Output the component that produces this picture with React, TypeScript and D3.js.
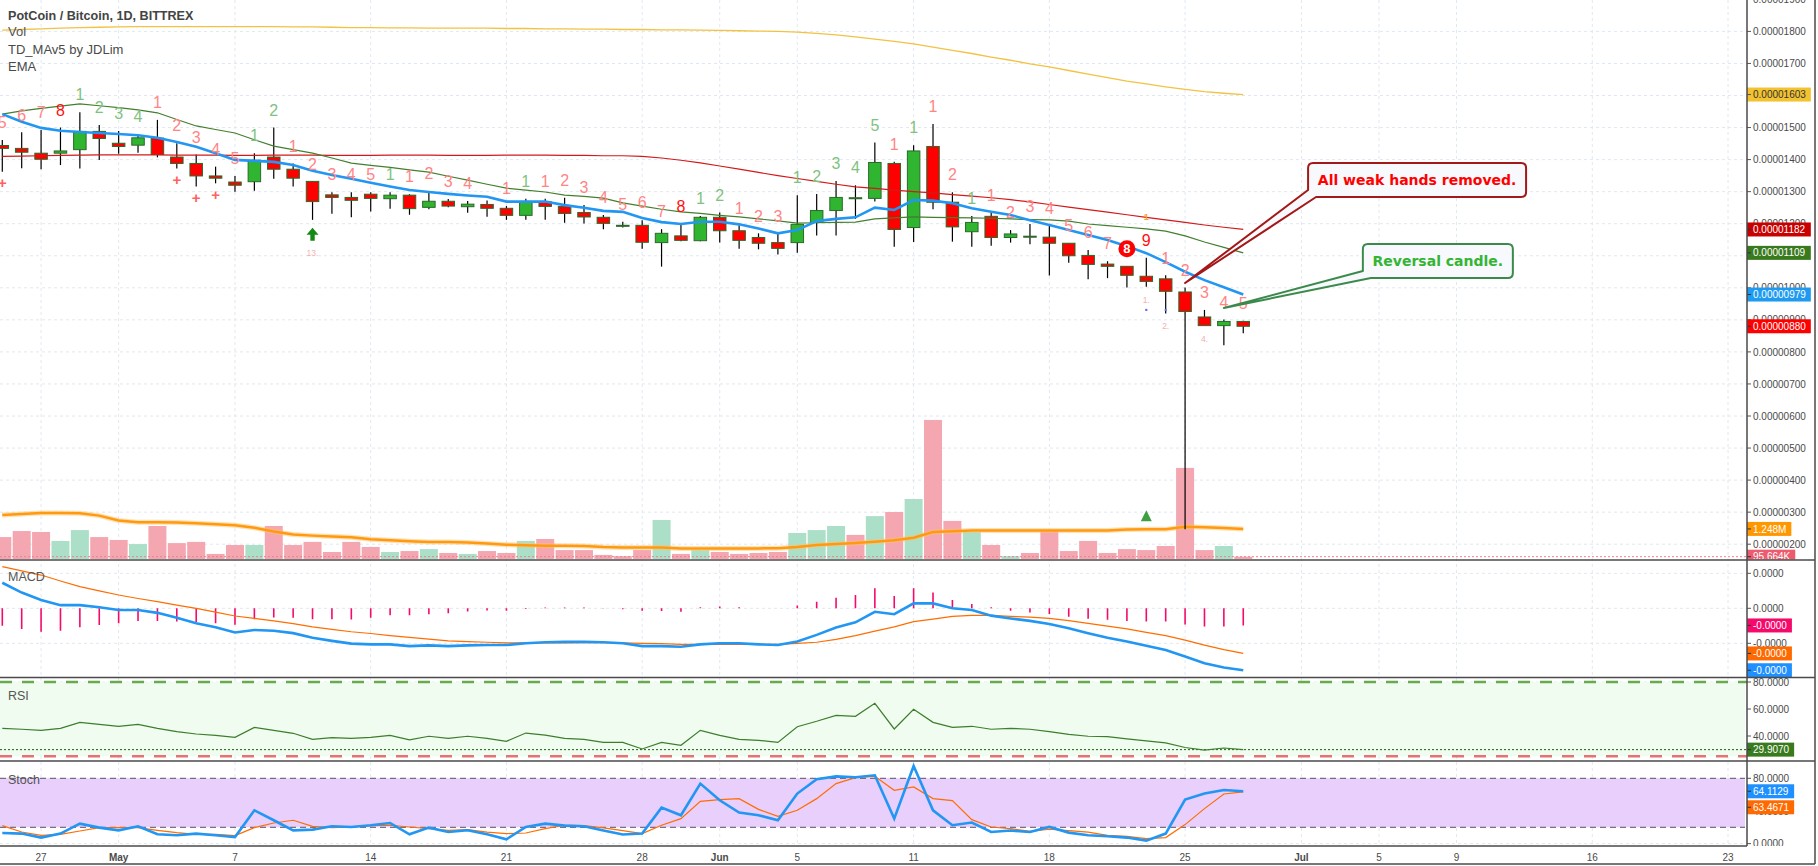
import React from "react";
import * as d3 from "d3";

// ---------------- data ----------------
const dates = d3.utcDay.range(new Date(Date.UTC(2018, 3, 25)), new Date(Date.UTC(2018, 5, 29)));

// prices in satoshi (1e-8 BTC)
const openP = [1444,1435,1420,1420,1431,1488,1451,1445,1467,1408,1388,1349,1330,1331,1408,1370,1332,1290,1282,1292,1278,1289,1251,1270,1253,1260,1248,1226,1268,1254,1235,1220,1195,1195,1141,1162,1147,1220,1178,1157,1141,1141,1204,1241,1281,1279,1388,1188,1441,1267,1175,1223,1157,1161,1158,1139,1101,1074,1067,1036,1028,987,909,882,895];
const highP = [1461,1485,1492,1500,1548,1508,1489,1479,1524,1451,1416,1378,1349,1420,1500,1388,1332,1298,1298,1298,1298,1292,1302,1277,1271,1272,1255,1278,1278,1281,1258,1227,1206,1211,1183,1199,1224,1235,1195,1170,1168,1289,1293,1333,1320,1453,1393,1445,1511,1298,1224,1235,1180,1199,1194,1139,1118,1083,1067,1094,1039,1001,931,901,897];
const lowP = [1362,1373,1370,1383,1372,1399,1418,1421,1407,1372,1316,1326,1300,1303,1340,1316,1212,1231,1220,1238,1247,1228,1245,1251,1234,1222,1212,1212,1212,1203,1201,1183,1188,1122,1066,1145,1145,1141,1122,1120,1104,1109,1163,1163,1215,1269,1128,1143,1245,1144,1128,1131,1141,1136,1038,1078,1027,1030,1001,1003,920,247,882,821,858];
const closeP = [1435,1423,1401,1427,1488,1466,1441,1468,1416,1388,1349,1342,1320,1398,1370,1342,1269,1282,1273,1279,1289,1247,1270,1255,1261,1248,1226,1267,1254,1232,1221,1201,1193,1142,1170,1148,1220,1178,1148,1139,1123,1198,1241,1282,1280,1391,1182,1427,1267,1190,1204,1157,1168,1160,1139,1100,1073,1067,1039,1020,989,926,882,895,880];

// volume in thousands
const volume = [910,1160,1120,750,1200,910,790,620,1370,660,710,210,580,580,1370,580,710,290,710,500,290,330,410,250,210,330,250,750,830,370,370,170,120,370,1620,210,370,290,210,250,290,1080,1200,1370,1000,1780,1950,2490,5770,1580,1120,580,120,250,1160,330,750,250,410,370,540,3780,370,540,95.664];
const volumeMA = [1830,1870,1910,1910,1900,1800,1600,1520,1520,1510,1480,1440,1400,1300,1140,1020,970,930,900,820,780,740,710,710,680,640,590,570,550,550,540,500,480,480,480,440,440,440,440,440,450,500,580,620,660,720,780,880,1120,1150,1180,1180,1180,1180,1180,1180,1180,1180,1220,1230,1230,1340,1320,1290,1248];

// EMAs (satoshi)
const emaFast = [1542,1518,1499,1490,1486,1483,1480,1476,1468,1455,1440,1420,1399,1396,1393,1383,1365,1352,1340,1328,1316,1305,1299,1293,1288,1284,1269,1269,1269,1258,1250,1240,1237,1218,1205,1199,1206,1206,1198,1185,1170,1180,1208,1215,1220,1250,1243,1274,1272,1264,1248,1237,1227,1211,1196,1180,1165,1149,1130,1108,1080,1050,1024,1002,979];
const emaMid = [1542,1552,1560,1567,1574,1568,1562,1555,1546,1525,1505,1494,1483,1462,1442,1431,1420,1405,1389,1382,1376,1368,1361,1348,1336,1323,1311,1305,1299,1289,1285,1280,1265,1255,1245,1237,1232,1226,1221,1215,1209,1202,1203,1204,1205,1215,1218,1221,1220,1219,1218,1217,1215,1213,1212,1208,1199,1194,1189,1184,1177,1162,1143,1126,1109];
const emaSlow = [1410,1411,1412,1413,1414,1415,1415,1415,1415,1414,1414,1414,1413,1413,1414,1414,1414,1413,1413,1413,1414,1414,1414,1413,1413,1413,1414,1414,1414,1413,1413,1412,1412,1410,1405,1398,1390,1380,1370,1360,1350,1341,1332,1323,1315,1310,1305,1300,1296,1291,1286,1281,1275,1268,1260,1252,1244,1236,1228,1220,1212,1204,1196,1189,1182];
const emaLong = [1804,1806,1808,1810,1812,1813,1814,1815,1815,1815,1815,1815,1815,1815,1815,1814,1814,1813,1812,1812,1811,1811,1810,1810,1810,1810,1809,1809,1808,1808,1807,1807,1806,1806,1805,1805,1804,1803,1802,1801,1800,1798,1794,1789,1783,1776,1769,1761,1751,1741,1731,1720,1710,1699,1689,1678,1667,1656,1645,1636,1627,1619,1612,1607,1603];

// MACD (satoshi)
const macdLine = [7.3,4.5,2.4,0.9,0.9,0.3,-0.5,-0.5,-1.3,-2.7,-4.3,-5.4,-6.9,-6.2,-6.4,-7.1,-8.4,-9.3,-10.1,-10.3,-10.3,-10.8,-10.6,-10.8,-10.6,-10.5,-10.5,-10.0,-9.7,-9.6,-9.6,-9.7,-10.0,-10.8,-10.8,-11.0,-10.3,-10.0,-10.0,-10.3,-10.5,-9.5,-7.6,-5.5,-4.0,-1.0,-1.7,1.4,1.4,0,-0.5,-2.1,-2.9,-3.6,-4.5,-5.7,-7.1,-8.4,-9.5,-10.7,-11.9,-13.8,-15.7,-16.9,-17.7];
const signalLine = [11.9,10.7,9.5,7.8,6.2,5.0,3.8,2.8,1.9,0.9,0,-1.1,-2.2,-2.9,-3.6,-4.4,-5.3,-6.0,-6.7,-7.2,-7.8,-8.3,-8.8,-9.3,-9.5,-9.7,-9.9,-9.9,-9.9,-9.9,-9.8,-9.8,-9.9,-10.0,-10.1,-10.3,-10.3,-10.3,-10.3,-10.3,-10.3,-10.0,-9.7,-8.9,-7.8,-6.5,-5.3,-3.8,-3.1,-2.3,-2.0,-2.0,-2.3,-2.5,-2.9,-3.5,-4.3,-5.1,-5.9,-6.9,-7.8,-9.1,-10.5,-11.8,-12.9];
const macdHist = [-5.0,-5.9,-6.7,-6.4,-5.4,-4.8,-4.3,-3.6,-3.6,-3.8,-3.9,-4.3,-4.7,-3.1,-2.6,-2.7,-3.1,-3.1,-3.2,-2.7,-2.0,-2.0,-1.7,-1.4,-0.9,-0.6,-0.7,-0.2,0.2,0.2,0.2,0.1,-0.3,-0.7,-0.8,-1.0,0.3,0.5,0.3,0,0,0.8,1.9,3.0,3.8,5.7,3.5,5.7,4.5,2.4,1.2,0.3,-0.7,-1.2,-1.6,-2.4,-3.0,-3.3,-3.6,-3.8,-3.8,-4.6,-5.2,-5.2,-4.9];

const rsi = [45.7,45.0,44.2,45.7,50.1,48.6,47.2,48.6,45.7,43.2,41.5,40.5,39.0,46.4,44.2,42.0,37.5,38.8,38.3,39.0,40.5,37.2,39.8,38.3,39.8,38.3,36.1,42.2,40.7,38.3,37.5,35.3,35.3,30.4,35.3,33.1,44.2,40.5,37.5,36.8,35.3,46.9,50.9,55.3,54.6,64.2,45.2,59.8,50.1,46.4,47.2,45.0,45.7,45.0,43.2,41.2,39.8,39.5,37.9,36.4,34.9,31.5,29.6,31.1,29.907];
const rsiBands = [80, 25];

const stochK = [13.0,12.3,7.4,12.3,24.5,19.6,16.3,21.2,11.4,10.2,12.3,10.2,8.1,40.8,28.6,16.3,17.2,21.2,20.4,22.5,25.3,11.4,19.6,14.2,16.3,11.4,5.3,20.4,24.5,22.0,21.2,16.0,11.1,12.3,44.1,34.7,73.5,53.1,38.0,34.7,28.6,61.3,78.8,82.4,81.2,83.7,30.6,95.1,40.8,22.5,25.8,14.2,16.0,14.2,20.4,13.5,10.2,9.0,7.4,3.7,12.3,53.9,61.3,65.7,64.1129];
const stochD = [22.1,14.2,10.2,11.4,15.5,19.6,19.6,19.6,16.3,13.5,11.4,11.4,9.8,19.6,25.3,28.6,21.2,19.6,20.4,22.0,22.5,20.4,18.4,16.3,17.2,14.2,12.3,13.0,18.4,22.5,22.0,19.2,16.0,12.3,22.5,30.6,51.8,53.9,55.1,42.0,33.5,40.8,55.1,73.5,80.8,82.4,65.3,69.4,55.1,52.7,29.4,20.4,18.4,15.1,17.6,16.0,14.2,10.2,9.0,6.2,7.4,23.3,42.9,60.8,63.4671];
const stochBands = [80, 20];

// TD sequential counts
const tdText = ["5","6","7","8","1","2","3","4","1","2","3","4","5","1","2","1","2","3","4","5","1","1","2","3","4","","1","1","1","2","3","4","5","6","7","8","1","2","1","2","3","1","2","3","4","5","1","1","1","2","1","1","2","3","4","5","6","7","8","9","1","2","3","4","5"];
const tdKind = ["r","r","r","R","g","g","g","g","r","r","r","r","r","g","g","r","r","r","r","r","g","r","r","r","r","-","r","g","r","r","r","r","r","r","r","R","g","g","r","r","r","g","g","g","g","g","r","g","r","r","g","r","r","r","r","r","r","r","C","R","r","r","r","r","r"];
const plusBars = [0, 9, 10, 11];
const arrowBar = 16;
const smallMarks = [
  { bar: 16, text: "13." },
  { bar: 59, text: "1." },
  { bar: 60, text: "2." },
  { bar: 62, text: "4." },
];

const tickDates = ["2018-04-27","2018-05-01","2018-05-07","2018-05-14","2018-05-21","2018-05-28","2018-06-01","2018-06-05","2018-06-11","2018-06-18","2018-06-25","2018-07-01","2018-07-05","2018-07-09","2018-07-16","2018-07-23"];
const tickLabels = ["27","May","7","14","21","28","Jun","5","11","18","25","Jul","5","9","16","23"];
const priceTicks = d3.range(200, 1901, 100);
const macdTicks = [10, 0, -10];
const rsiTicks = [80, 60, 40];
const stochTicks = [80, 40, 0];

const annotations = [
  { text: "All weak hands removed.", bar: 61, price: 1015, dx: 123, dy: -120, w: 218, color: "#ff0000", border: "#a31818" },
  { text: "Reversal candle.", bar: 63, price: 937, dx: 139, dy: -64, w: 150, color: "#33b533", border: "#3b8a4b" },
];

// ---------------- layout ----------------
const W = 1818, H = 866;
const AX = 1747;
const MAIN_B = 559.5, MACD_T = 560, MACD_B = 677.5, RSI_T = 677.5, RSI_B = 761, ST_T = 761, ST_B = 846;
const FONT = "'Liberation Sans', Arial, sans-serif";
const GRID = "#dfe8f2";

function textW(s: string) {
  let w = 0;
  for (const ch of s) w += /[0-9]/.test(ch) ? 5.56 : ch === "." ? 2.78 : ch === "-" ? 3.33 : ch === "M" ? 8.33 : ch === "K" ? 6.67 : 5.5;
  return w;
}

function fmtVol(v: number) {
  return v >= 1000 ? (v / 1000).toFixed(3) + "M" : v.toFixed(3) + "K";
}

const Tag = ({ y, text, bg, fg = "#fff" }: { y: number; text: string; bg: string; fg?: string }) => (
  <g>
    <rect x={AX} y={y - 7} width={textW(text) + 11} height={14} fill={bg} />
    <line x1={AX} x2={AX + 4} y1={y} y2={y} stroke={fg === "#fff" ? "#333" : "#555"} strokeWidth={1} />
    <text x={AX + 6} y={y + 3.6} fontSize={10} fill={fg} fontFamily={FONT}>{text}</text>
  </g>
);

export default function App() {
  const x = d3.scaleUtc()
    .domain([new Date(Date.UTC(2018, 3, 25)), new Date(Date.UTC(2018, 6, 23))])
    .range([2.3, 1728]);
  const yP = d3.scaleLinear().domain([200, 1800]).range([544.2, 31.4]);
  const yV = d3.scaleLinear().domain([0, 1000]).range([559, 534.9]);
  const yM = d3.scaleLinear().domain([-10, 10]).range([643.3, 573.3]);
  const yR = d3.scaleLinear().domain([40, 80]).range([736, 682]);
  const yS = d3.scaleLinear().domain([20, 80]).range([827.3, 778.3]);

  const xs = dates.map((d) => x(d));
  const mk = (arr: number[], ys: (v: number) => number) =>
    d3.line<number>().x((_, i) => xs[i]).y((v) => ys(v))(arr) || "";

  const bw = 12.5;
  const vw = 18;
  const tdColor: Record<string, string> = { r: "#ff8585", g: "#7fc27f", R: "#ff1010" };

  const tickX = tickDates.map((s) => x(new Date(s + "T00:00:00Z")));
  const last = dates.length - 1;

  const kY = yS(stochK[last]);
  const dY = Math.max(yS(stochD[last]), kY + 16);

  return (
    <div style={{ position: "absolute", left: 0, top: 0, width: W, height: H, background: "#fff" }}>
      <svg width={W} height={H} style={{ display: "block" }} fontFamily={FONT}>
        <defs>
          <clipPath id="cMain"><rect x={0} y={0} width={AX} height={MAIN_B} /></clipPath>
          <clipPath id="cMacd"><rect x={0} y={MACD_T} width={AX} height={MACD_B - MACD_T} /></clipPath>
          <clipPath id="cRsi"><rect x={0} y={RSI_T} width={AX} height={RSI_B - RSI_T} /></clipPath>
          <clipPath id="cSt"><rect x={0} y={ST_T} width={AX} height={ST_B - ST_T} /></clipPath>
          <clipPath id="aMain"><rect x={AX} y={0} width={W - AX} height={MAIN_B} /></clipPath>
          <clipPath id="aMacd"><rect x={AX} y={MACD_T} width={W - AX} height={MACD_B - MACD_T} /></clipPath>
          <clipPath id="aRsi"><rect x={AX} y={RSI_T} width={W - AX} height={RSI_B - RSI_T} /></clipPath>
          <clipPath id="aSt"><rect x={AX} y={ST_T} width={W - AX} height={ST_B - ST_T} /></clipPath>
        </defs>
        <rect x={0} y={0} width={W} height={H} fill="#fff" />

        {/* grids */}
        <g stroke={GRID} strokeWidth={1} strokeDasharray="3 3">
          {tickX.map((tx, i) => (
            <line key={"vg" + i} x1={tx} x2={tx} y1={0} y2={ST_B} />
          ))}
          <g clipPath="url(#cMain)">
            {priceTicks.map((t) => (
              <line key={"pg" + t} x1={0} x2={AX} y1={yP(t)} y2={yP(t)} />
            ))}
          </g>
          {macdTicks.map((t) => (
            <line key={"mg" + t} x1={0} x2={AX} y1={yM(t)} y2={yM(t)} />
          ))}
          {rsiTicks.map((t) => (
            <line key={"rg" + t} x1={0} x2={AX} y1={yR(t)} y2={yR(t)} />
          ))}
          {stochTicks.map((t) => (
            <line key={"sg" + t} x1={0} x2={AX} y1={yS(t)} y2={yS(t)} />
          ))}
        </g>

        {/* ---------- main pane ---------- */}
        <g clipPath="url(#cMain)">
          {/* volume */}
          {volume.map((v, i) => (
            <rect key={"v" + i} x={xs[i] - vw / 2} y={yV(v)} width={vw} height={yV(0) - yV(v)}
              fill={closeP[i] > openP[i] ? "#acdfc7" : "#f4a7b0"} />
          ))}
          <line x1={0} x2={AX} y1={yV(volume[last])} y2={yV(volume[last])} stroke="#f07f8a" strokeDasharray="2 2" strokeWidth={1} />
          <path d={mk(volumeMA, yV)} fill="none" stroke="#ffc46b" strokeWidth={5} strokeOpacity={0.5} />
          <path d={mk(volumeMA, yV)} fill="none" stroke="#ff9a10" strokeWidth={2.5} />

          {/* candles */}
          {dates.map((d, i) => {
            const o = openP[i], c = closeP[i];
            const up = c > o;
            const top = yP(Math.max(o, c));
            const bot = yP(Math.min(o, c));
            const h = Math.max(1, bot - top);
            return (
              <g key={"c" + i}>
                <line x1={xs[i]} x2={xs[i]} y1={yP(highP[i])} y2={yP(lowP[i])} stroke="#000" strokeWidth={1.2} />
                <rect x={xs[i] - bw / 2} y={top} width={bw} height={h}
                  fill={up ? "#2fb52f" : "#ff0000"} stroke="#2a6a2a" strokeWidth={1} />
              </g>
            );
          })}

          {/* EMAs */}
          <path d={mk(emaLong, yP)} fill="none" stroke="#f3c242" strokeWidth={1.3} />
          <path d={mk(emaSlow, yP)} fill="none" stroke="#d21a1a" strokeWidth={1.2} />
          <path d={mk(emaMid, yP)} fill="none" stroke="#437f2e" strokeWidth={1.2} />
          <path d={mk(emaFast, yP)} fill="none" stroke="#2196f3" strokeWidth={2.6} />

          {/* TD counts */}
          {tdText.map((t, i) => {
            if (!t) return null;
            const cy = yP(highP[i]) - 17.5;
            const k = tdKind[i];
            if (k === "C") {
              return (
                <g key={"td" + i}>
                  <circle cx={xs[i]} cy={cy} r={8.5} fill="#ff0000" />
                  <text x={xs[i]} y={cy + 4.5} textAnchor="middle" fontSize={13} fontWeight="bold" fill="#fff">{t}</text>
                </g>
              );
            }
            return (
              <text key={"td" + i} x={xs[i]} y={cy + 5.7} textAnchor="middle" fontSize={16}
                fill={tdColor[k]}>{t}</text>
            );
          })}
          <text x={xs[59]} y={yP(highP[59]) - 38} textAnchor="middle" fontSize={9} fontWeight="bold" fill="#f5a623">1</text>

          {plusBars.map((b) => (
            <text key={"pl" + b} x={xs[b]} y={yP(lowP[b]) + 16.5} textAnchor="middle" fontSize={15} fontWeight="bold" fill="#ff6060">+</text>
          ))}

          {/* green arrow */}
          {(() => {
            const ax0 = xs[arrowBar];
            const ay = yP(lowP[arrowBar]) + 8;
            return (
              <path d={`M${ax0},${ay} L${ax0 + 6},${ay + 7} L${ax0 + 2.2},${ay + 7} L${ax0 + 2.2},${ay + 13} L${ax0 - 2.2},${ay + 13} L${ax0 - 2.2},${ay + 7} L${ax0 - 6},${ay + 7} Z`} fill="#138a13" />
            );
          })()}
          {smallMarks.map((m, i) => (
            <text key={"sm" + i} x={xs[m.bar]} y={yP(lowP[m.bar]) + (m.bar === arrowBar ? 36 : 16)} textAnchor="middle" fontSize={8.5} fill="#f3b1b1">{m.text}</text>
          ))}
          <circle cx={xs[59]} cy={yP(931)} r={1.2} fill="#5a6cff" />
          <circle cx={xs[60]} cy={yP(931)} r={1.2} fill="#5a6cff" />
          {/* green triangle */}
          {(() => {
            const tx = xs[59];
            const tb = yV(volumeMA[59]) - 8;
            return <path d={`M${tx},${tb - 11} L${tx + 5.5},${tb} L${tx - 5.5},${tb} Z`} fill="#3f9e3f" />;
          })()}

          {/* annotations */}
          {annotations.map((a, i) => {
            const ax0 = xs[a.bar];
            const ay = yP(a.price);
            const l = ax0 + a.dx, t = ay + a.dy, r = l + a.w, b = t + 34, rr = 5;
            const d = `M${l + rr},${t} H${r - rr} Q${r},${t} ${r},${t + rr} V${b - rr} Q${r},${b} ${r - rr},${b} H${l + 8} L${ax0},${ay} L${l},${b - 7} V${t + rr} Q${l},${t} ${l + rr},${t} Z`;
            return (
              <g key={"an" + i}>
                <path d={d} fill="#f7f9fc" stroke={a.border} strokeWidth={2} strokeLinejoin="round" />
                <text x={(l + r) / 2} y={t + 22} textAnchor="middle" fontSize={14} fontWeight="bold"
                  fontFamily="'DejaVu Sans', Verdana, sans-serif" fill={a.color}>{a.text}</text>
              </g>
            );
          })}
        </g>

        {/* legend */}
        <g fill="#4a4a4a">
          <text x={8} y={19.5} fontSize={12.6} fontWeight="bold" fill="#444">PotCoin / Bitcoin, 1D, BITTREX</text>
          <text x={8} y={36} fontSize={13} fill="#555">Vol</text>
          <text x={8} y={53.5} fontSize={13}>TD_MAv5 by JDLim</text>
          <text x={8} y={70.5} fontSize={13}>EMA</text>
        </g>

        {/* ---------- MACD pane ---------- */}
        <g clipPath="url(#cMacd)">
          {macdHist.map((h, i) => (
            <line key={"h" + i} x1={xs[i]} x2={xs[i]} y1={yM(0)} y2={yM(h)} stroke="#f50a6b" strokeWidth={1.6} />
          ))}
          <path d={mk(signalLine, yM)} fill="none" stroke="#ff6d00" strokeWidth={1.2} />
          <path d={mk(macdLine, yM)} fill="none" stroke="#2196f3" strokeWidth={2.6} />
          <text x={8} y={581} fontSize={12.5} fill="#555">MACD</text>
        </g>

        {/* ---------- RSI pane ---------- */}
        <g clipPath="url(#cRsi)">
          <rect x={0} y={yR(rsiBands[0])} width={AX - 2} height={yR(rsiBands[1]) - yR(rsiBands[0])} fill="#effcef" />
          <line x1={0} x2={AX} y1={yR(rsiBands[0])} y2={yR(rsiBands[0])} stroke="#6aaa4f" strokeWidth={2.5} strokeDasharray="12 10" />
          <line x1={0} x2={AX} y1={yR(rsiBands[1])} y2={yR(rsiBands[1])} stroke="#e57373" strokeWidth={2.5} strokeDasharray="12 10" />
          <line x1={0} x2={AX} y1={yR(rsi[last])} y2={yR(rsi[last])} stroke="#1d5e14" strokeWidth={1} strokeDasharray="2 2" />
          <path d={mk(rsi, yR)} fill="none" stroke="#3e7d2c" strokeWidth={1.2} />
          <text x={8} y={699.5} fontSize={12.5} fill="#555">RSI</text>
        </g>

        {/* ---------- Stoch pane ---------- */}
        <g clipPath="url(#cSt)">
          <rect x={0} y={yS(stochBands[0])} width={AX - 2} height={yS(stochBands[1]) - yS(stochBands[0])} fill="#e8cffc" />
          <line x1={0} x2={AX - 2} y1={yS(stochBands[0])} y2={yS(stochBands[0])} stroke="#5a5266" strokeWidth={1} strokeDasharray="6 4" />
          <line x1={0} x2={AX - 2} y1={yS(stochBands[1])} y2={yS(stochBands[1])} stroke="#5a5266" strokeWidth={1} strokeDasharray="6 4" />
          <path d={mk(stochD, yS)} fill="none" stroke="#ff6d00" strokeWidth={1.2} />
          <path d={mk(stochK, yS)} fill="none" stroke="#2196f3" strokeWidth={2.6} />
          <text x={8} y={783.5} fontSize={12.5} fill="#555">Stoch</text>
        </g>

        {/* ---------- price axis ---------- */}
        <g fontSize={10} fill="#4a4a4a">
          <g clipPath="url(#aMain)">
            {priceTicks.map((t) => (
              <g key={"pt" + t}>
                <line x1={AX} x2={AX + 4} y1={yP(t)} y2={yP(t)} stroke="#555" />
                <text x={AX + 6} y={yP(t) + 3.6}>{(t * 1e-8).toFixed(8)}</text>
              </g>
            ))}
            <Tag y={yP(emaLong[last])} text={(emaLong[last] * 1e-8).toFixed(8)} bg="#f2c230" fg="#333" />
            <Tag y={yP(emaSlow[last])} text={(emaSlow[last] * 1e-8).toFixed(8)} bg="#c80000" />
            <Tag y={yP(emaMid[last])} text={(emaMid[last] * 1e-8).toFixed(8)} bg="#3a7a1e" />
            <Tag y={yP(emaFast[last])} text={(emaFast[last] * 1e-8).toFixed(8)} bg="#1e9bf0" />
            <Tag y={yP(closeP[last])} text={(closeP[last] * 1e-8).toFixed(8)} bg="#ff0000" />
            <Tag y={yV(volumeMA[last])} text={fmtVol(volumeMA[last])} bg="#ff9800" />
            <Tag y={yV(volume[last])} text={fmtVol(volume[last])} bg="#ec5b6e" />
          </g>
          <g clipPath="url(#aMacd)">
            {macdTicks.map((t) => (
              <g key={"mt" + t}>
                <line x1={AX} x2={AX + 4} y1={yM(t)} y2={yM(t)} stroke="#555" />
                <text x={AX + 6} y={yM(t) + 3.6}>{(t * 1e-8).toFixed(4)}</text>
              </g>
            ))}
            <Tag y={yM(macdHist[last])} text={(macdHist[last] * 1e-8).toFixed(4)} bg="#f50a6b" />
            <Tag y={yM(signalLine[last])} text={(signalLine[last] * 1e-8).toFixed(4)} bg="#ff6a00" />
            <Tag y={yM(macdLine[last])} text={(macdLine[last] * 1e-8).toFixed(4)} bg="#1e90ff" />
          </g>
          <g clipPath="url(#aRsi)">
            {rsiTicks.map((t) => (
              <g key={"rt" + t}>
                <line x1={AX} x2={AX + 4} y1={yR(t)} y2={yR(t)} stroke="#555" />
                <text x={AX + 6} y={yR(t) + 3.6}>{t.toFixed(4)}</text>
              </g>
            ))}
            <Tag y={yR(rsi[last])} text={rsi[last].toFixed(4)} bg="#3a7a1e" />
          </g>
          <g clipPath="url(#aSt)">
            {stochTicks.map((t) => (
              <g key={"st" + t}>
                <line x1={AX} x2={AX + 4} y1={yS(t)} y2={yS(t)} stroke="#555" />
                <text x={AX + 6} y={yS(t) + 3.6}>{t.toFixed(4)}</text>
              </g>
            ))}
            <Tag y={kY} text={stochK[last].toFixed(4)} bg="#1e90ff" />
            <Tag y={dY} text={stochD[last].toFixed(4)} bg="#ff6a00" />
          </g>
        </g>

        {/* time axis labels */}
        <g fontSize={10} fill="#4a4a4a" textAnchor="middle">
          {tickX.map((tx, i) => (
            <text key={"xt" + i} x={tx} y={860.5}
              fontWeight={/^[A-Z]/.test(tickLabels[i]) ? "bold" : "normal"}>{tickLabels[i]}</text>
          ))}
        </g>

        {/* separators & borders */}
        <g stroke="#4a4a4a" strokeWidth={1.5}>
          <line x1={0} x2={1815} y1={560} y2={560} />
          <line x1={0} x2={1815} y1={677.5} y2={677.5} />
          <line x1={0} x2={1815} y1={761} y2={761} />
          <line x1={0} x2={AX} y1={846} y2={846} />
          <line x1={AX} x2={AX} y1={0} y2={846} />
          <line x1={1815} x2={1815} y1={0} y2={864} />
          <line x1={0} x2={1815} y1={864} y2={864} />
        </g>
      </svg>
    </div>
  );
}
